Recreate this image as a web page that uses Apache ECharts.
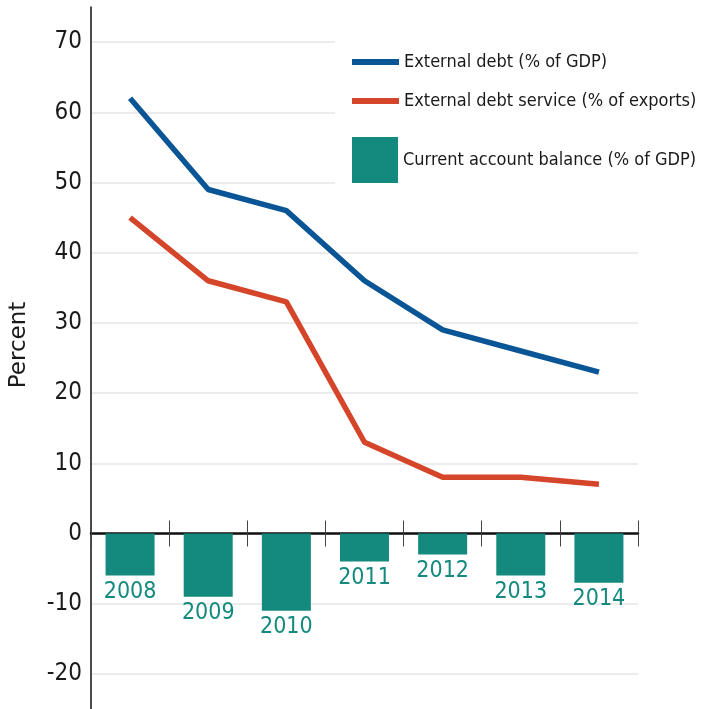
<!DOCTYPE html>
<html>
<head>
<meta charset="utf-8">
<script src="https://cdn.jsdelivr.net/npm/echarts@6/dist/echarts.min.js"></script>
<style>
html,body{margin:0;padding:0;background:#fff;}
#chart{width:703px;height:709px;}
</style>
</head>
<body>
<div id="chart"></div>
<script>
const years = ['2008','2009','2010','2011','2012','2013','2014'];
const externalDebt = [62, 49, 46, 36, 29, 26, 23];
const debtService = [45, 36, 33, 13, 8, 8, 7];
const currentAccount = [-6, -9, -11, -4, -3, -6, -7];
const yTickLabels = [-20, -10, 0, 10, 20, 30, 40, 50, 60, 70];

const NARROW = '"DejaVu Sans Condensed","Liberation Sans Narrow","Roboto",sans-serif';
const BLUE = '#0a5595';
const RED = '#d5452a';
const TEAL = '#138a7d';

const chart = echarts.init(document.getElementById('chart'), null, {renderer: 'canvas'});
chart.setOption({
  animation: false,
  backgroundColor: '#ffffff',
  grid: {left: 89, right: 65, top: 7, bottom: -1, containLabel: false},
  legend: [
    {
      data: ['External debt (% of GDP)', 'External debt service (% of exports)'],
      orient: 'vertical',
      left: 335, top: 36,
      padding: [15, 5, 10, 17],
      backgroundColor: '#ffffff',
      itemWidth: 47, itemHeight: 6, itemGap: 17,
      icon: 'rect',
      textStyle: {fontFamily: NARROW, fontSize: 18, lineHeight: 22, color: '#1a1a1a'}
    },
    {
      data: ['Current account balance (% of GDP)'],
      orient: 'vertical',
      left: 335, top: 122,
      padding: [15, 5, 8, 17],
      backgroundColor: '#ffffff',
      itemWidth: 46, itemHeight: 46,
      icon: 'rect',
      textStyle: {fontFamily: NARROW, fontSize: 18, lineHeight: 22, color: '#1a1a1a'}
    }
  ],
  xAxis: [
    {
      type: 'category', data: years, boundaryGap: true,
      axisLine: {onZero: true, onZeroAxisIndex: 0, lineStyle: {color: '#111', width: 2.5}},
      axisTick: {show: true, inside: false, length: 13, lineStyle: {color: '#444', width: 1}},
      axisLabel: {show: false},
      splitLine: {show: false}
    },
    {
      type: 'category', data: years, boundaryGap: true, position: 'bottom',
      axisLine: {show: false, onZero: true, onZeroAxisIndex: 0},
      axisTick: {show: true, inside: true, length: 13, lineStyle: {color: '#444', width: 1}},
      axisLabel: {show: false},
      splitLine: {show: false}
    }
  ],
  yAxis: {
    type: 'value', min: -25, max: 75, interval: 5,
    name: 'Percent', nameLocation: 'middle', nameGap: 60, nameRotate: 90,
    nameTextStyle: {fontFamily: '"DejaVu Sans",sans-serif', fontSize: 23, color: '#1a1a1a', padding: [0, 0, 0, 26]},
    axisLine: {show: true, lineStyle: {color: '#111', width: 1.5}},
    axisTick: {show: false},
    axisLabel: {
      fontFamily: NARROW, fontSize: 24, color: '#1a1a1a', margin: 9,
      formatter: function (v) { return yTickLabels.indexOf(v) >= 0 ? String(v) : ''; }
    },
    splitLine: {show: true, lineStyle: {color: ['rgba(0,0,0,0)', '#e6e6e6'], width: 1.5}}
  },
  series: [
    {
      name: 'Current account balance (% of GDP)',
      type: 'bar', data: currentAccount, barWidth: 49,
      itemStyle: {color: TEAL},
      label: {show: true, position: 'bottom', distance: 5, formatter: '{b}',
        fontFamily: NARROW, fontSize: 23, color: TEAL},
      z: 2
    },
    {
      name: 'External debt (% of GDP)',
      type: 'line', data: externalDebt, symbol: 'none',
      lineStyle: {color: BLUE, width: 5.5}, itemStyle: {color: BLUE}, z: 3
    },
    {
      name: 'External debt service (% of exports)',
      type: 'line', data: debtService, symbol: 'none',
      lineStyle: {color: RED, width: 5.5}, itemStyle: {color: RED}, z: 3
    }
  ]
});
</script>
</body>
</html>
